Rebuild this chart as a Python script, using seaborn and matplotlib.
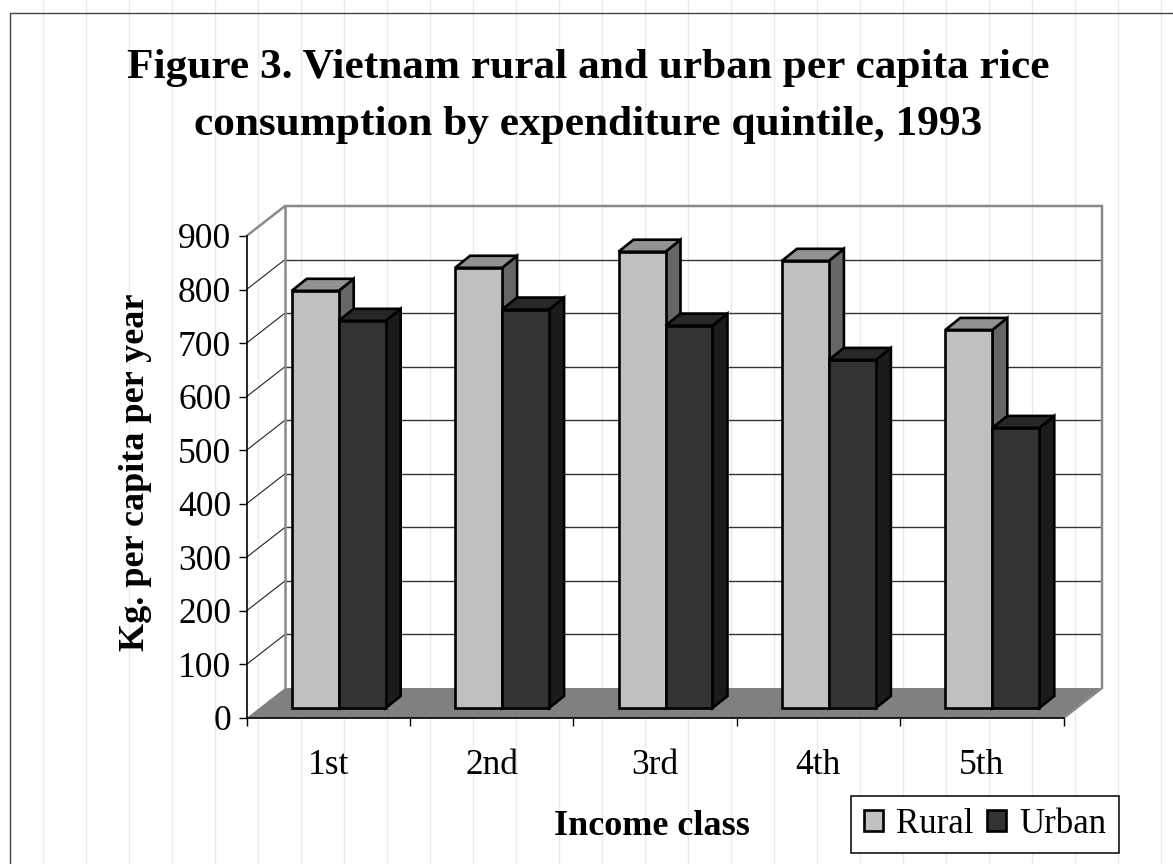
import numpy as np
import pandas as pd
import matplotlib
matplotlib.use("Agg")
import matplotlib.pyplot as plt
import seaborn as sns
from matplotlib.patches import Polygon

# values
quintiles = ["1st", "2nd", "3rd", "4th", "5th"]
rural = [779, 822, 852, 835, 706]
urban = [723, 744, 714, 650, 523]
y_ticks = [0, 100, 200, 300, 400, 500, 600, 700, 800, 900]

df = pd.DataFrame({
    "quintile": quintiles * 2,
    "kg": rural + urban,
    "area": ["Rural"] * 5 + ["Urban"] * 5,
})

sns.set_style("ticks")
plt.rcParams["font.family"] = ["Liberation Serif", "DejaVu Serif"]
plt.rcParams["text.color"] = "black"
plt.rcParams["xtick.labelcolor"] = "black"
plt.rcParams["ytick.labelcolor"] = "black"

W, H = 1173, 864
fig = plt.figure(figsize=(W / 100, H / 100), dpi=100, facecolor="white")

# =========================
# background: frame and faint vertical lines
# =========================
bg = fig.add_axes([0, 0, 1, 1], zorder=-1)
bg.set_xlim(0, W)
bg.set_ylim(H, 0)
bg.axis("off")
bg.vlines(np.arange(43, W, 43), 0, H, color="#e9e9e9", lw=1.0)
bg.plot([9.5, 9.5, W], [H, 12.5, 12.5], color="#444444", lw=1.0)

# =========================
# main axes = front plane of the 3d box
# =========================
left, right, top, bottom = 246.5, 1063.5, 236, 718
ax = fig.add_axes([left / W, 1 - bottom / H, (right - left) / W, (bottom - top) / H])
ax.patch.set_alpha(0)

sns.barplot(
    data=df, x="quintile", y="kg", hue="area",
    palette=["#c0c0c0", "#333333"], saturation=1,
    width=0.575, gap=0, edgecolor="black", linewidth=1.9, ax=ax,
)
ax.set_xlim(-0.5, 4.5)
ax.set_ylim(0, 900)

px_x = 5 / (right - left)
px_y = 900 / (bottom - top)
wall_dx, wall_dy = 38.5 * px_x, 30 * px_y
base_dx, base_dy = 10.5 * px_x, 10 * px_y
bar_dx, bar_dy = 15 * px_x, 12 * px_y

# back wall, left wall and floor
ax.add_patch(Polygon(
    [(-0.5, 0), (4.5, 0), (4.5 + wall_dx, wall_dy), (-0.5 + wall_dx, wall_dy)],
    fc="#808080", ec="none", clip_on=False, zorder=0.8,
))
grid_vals = y_ticks[1:-1]
ax.hlines([v + wall_dy for v in grid_vals], -0.5 + wall_dx, 4.5 + wall_dx,
          color="#333333", lw=1.0, clip_on=False, zorder=1)
for v in grid_vals:
    ax.plot([-0.5, -0.5 + wall_dx], [v, v + wall_dy], color="#222222", lw=0.8,
            clip_on=False, zorder=1)
gray = "#8a8a8a"
ax.plot([-0.5, -0.5 + wall_dx, 4.5 + wall_dx, 4.5 + wall_dx, 4.5],
        [900, 900 + wall_dy, 900 + wall_dy, wall_dy, 0],
        color=gray, lw=1.8, clip_on=False, zorder=1.1, solid_joinstyle="miter")
ax.plot([-0.5 + wall_dx] * 2, [wall_dy, 900 + wall_dy], color=gray, lw=1.8,
        clip_on=False, zorder=1.1)

# =========================
# turn the flat bars into 3d boxes
# =========================
face_cols = {0: ("#666666", "#929292"), 1: ("#1b1b1b", "#272727")}
n_cat = len(quintiles)
for i, rect in enumerate(ax.patches[:2 * n_cat]):
    series = i // n_cat
    z = 3 + series * 0.1
    x0 = rect.get_x() + base_dx
    w = rect.get_width()
    h = rect.get_height()
    y1 = base_dy + h
    rect.set_x(x0)
    rect.set_y(base_dy)
    rect.set_clip_on(False)
    rect.set_zorder(z + 0.01)
    rect.set_joinstyle("miter")
    side_col, top_col = face_cols[series]
    ax.add_patch(Polygon(
        [(x0 + w, base_dy), (x0 + w + bar_dx, base_dy + bar_dy),
         (x0 + w + bar_dx, y1 + bar_dy), (x0 + w, y1)],
        fc=side_col, ec="black", lw=1.9, clip_on=False, zorder=z, joinstyle="miter",
    ))
    ax.add_patch(Polygon(
        [(x0, y1), (x0 + w, y1), (x0 + w + bar_dx, y1 + bar_dy), (x0 + bar_dx, y1 + bar_dy)],
        fc=top_col, ec="black", lw=1.9, clip_on=False, zorder=z, joinstyle="miter",
    ))

# =========================
# axes, ticks and text
# =========================
sns.despine(ax=ax)
for s in ["left", "bottom"]:
    ax.spines[s].set_color("black")
    ax.spines[s].set_linewidth(1.2)
ax.set_yticks(y_ticks)
ax.set_xticks(np.arange(-0.5, 5, 1), minor=False)
ax.set_xticklabels([])
ax.set_xticks(range(5), quintiles, minor=True)
ax.tick_params(axis="x", which="major", length=6, width=1, color="black")
ax.tick_params(axis="x", which="minor", length=0, pad=22, labelsize=25.5)
ax.tick_params(axis="y", length=6, width=1, color="black", pad=5, labelsize=25.5)
ax.set_xlabel("")
ax.set_ylabel("")

fig.text(135 / W, 1 - 472 / H, "Kg. per capita per year", rotation=90, ha="center", va="center",
         fontsize=26, fontweight="bold")
fig.text(652 / W, 1 - 835 / H, "Income class", ha="center", va="baseline",
         fontsize=26, fontweight="bold")
fig.text(588 / W, 1 - 135 / H,
         "Figure 3. Vietnam rural and urban per capita rice\nconsumption by expenditure quintile, 1993",
         ha="center", va="baseline", fontsize=31.2, fontweight="bold", linespacing=1.67)

handles, labels = ax.get_legend_handles_labels()
ax.legend_.remove()
leg = fig.legend(
    handles, labels, ncols=2, loc="center", bbox_to_anchor=(985 / W, 1 - 824.5 / H),
    fontsize=25, frameon=True, fancybox=False, edgecolor="black", framealpha=1,
    handlelength=0.55, handleheight=0.55, handletextpad=0.38, columnspacing=0.4,
    borderpad=0.35, borderaxespad=0,
)
leg.get_frame().set_linewidth(1.1)

fig.savefig("out.png", dpi=100)
